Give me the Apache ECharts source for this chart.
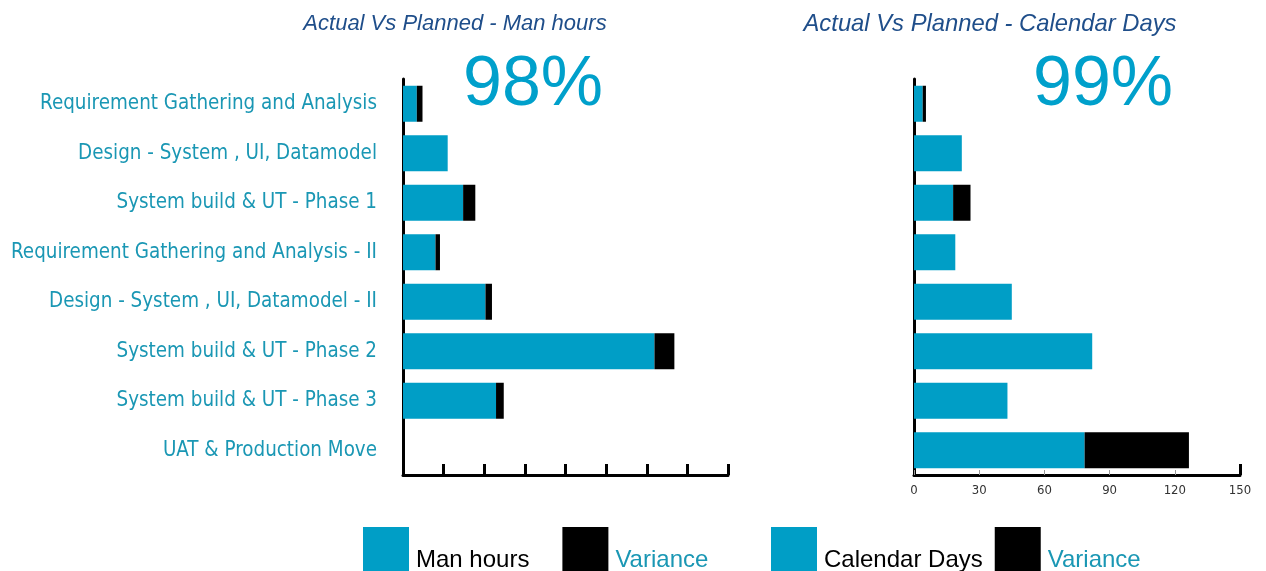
<!DOCTYPE html>
<html>
<head>
<meta charset="utf-8">
<script src="https://cdn.jsdelivr.net/npm/echarts@6/dist/echarts.min.js"></script>
<style>
  html, body { margin: 0; padding: 0; background: #fff; }
  #chart { width: 1266px; height: 571px; }
</style>
</head>
<body>
<div id="chart"></div>
<script>
const categories = [
  "Requirement Gathering and Analysis",
  "Design - System , UI, Datamodel",
  "System build & UT - Phase 1",
  "Requirement Gathering and Analysis - II",
  "Design - System , UI, Datamodel - II",
  "System build & UT - Phase 2",
  "System build & UT - Phase 3",
  "UAT & Production Move",
];
const manHours = [34, 110, 148, 80, 203, 619, 229, 0];
const manHoursVariance = [14, 0, 30, 11, 16, 49, 19, 0];
const calendarDays = [4, 22, 18, 19, 45, 82, 43, 78.5];
const calendarVariance = [1.5, 0, 8, 0, 0, 0, 0, 48];
const calendarTicks = [0, 30, 60, 90, 120, 150];
const manHoursPct = "98%";
const calendarPct = "99%";

const BLUE = "#009ec6";
const TEAL = "#1a97b4";
const NAVY = "#1f4e8a";

const chart = echarts.init(document.getElementById("chart"));

const catAxis = (gridIndex, showLabels) => ({
  type: "category",
  gridIndex,
  inverse: true,
  data: categories,
  axisLine: { lineStyle: { color: "#000", width: 3 } },
  axisTick: { show: false },
  axisLabel: {
    show: showLabels,
    color: TEAL,
    fontSize: 20.4,
    fontFamily: "DejaVu Sans Condensed",
    margin: 26,
  },
});

// legend text sits low, next to the bottom of the swatch
const legendText = (color) => ({
  fontSize: 24,
  rich: { t: { fontSize: 24, color, padding: [20, 0, 0, 2] } },
});

chart.setOption({
  animation: false,
  textStyle: { fontFamily: "Liberation Sans" },
  title: [
    {
      text: "Actual Vs Planned - Man hours",
      left: 450,
      top: 8,
      textAlign: "center",
      textStyle: { color: NAVY, fontSize: 22, fontStyle: "italic", fontWeight: "normal" },
    },
    {
      text: "Actual Vs Planned - Calendar Days",
      left: 985,
      top: 7,
      textAlign: "center",
      textStyle: { color: NAVY, fontSize: 23.8, fontStyle: "italic", fontWeight: "normal" },
    },
  ],
  graphic: [
    {
      type: "text",
      z: 10,
      style: { text: manHoursPct, x: 533, y: 86, fill: "#00a0cb", font: "70px Liberation Sans", textAlign: "center", textVerticalAlign: "middle" },
    },
    {
      type: "text",
      z: 10,
      style: { text: calendarPct, x: 1103, y: 86, fill: "#00a0cb", font: "70px Liberation Sans", textAlign: "center", textVerticalAlign: "middle" },
    },
  ],
  legend: [
    {
      left: 363,
      top: 527,
      padding: 0,
      itemWidth: 46,
      itemHeight: 46,
      itemGap: 33,
      icon: "rect",
      selectedMode: false,
      formatter: "{t|{name}}",
      data: [
        { name: "Man hours", textStyle: legendText("#000") },
        { name: "Variance", textStyle: legendText(TEAL) },
      ],
    },
    {
      left: 771,
      top: 527,
      padding: 0,
      itemWidth: 46,
      itemHeight: 46,
      itemGap: 12,
      icon: "rect",
      selectedMode: false,
      formatter: "{t|{name}}",
      data: [
        { name: "Calendar Days", textStyle: legendText("#000") },
        { name: "Variance", textStyle: legendText(TEAL) },
      ],
    },
  ],
  grid: [
    { left: 403, right: 538, top: 79, bottom: 96 },
    { left: 914, right: 26, top: 79, bottom: 96 },
  ],
  xAxis: [
    {
      type: "value",
      gridIndex: 0,
      min: 0,
      max: 800,
      interval: 100,
      axisLine: { show: true, lineStyle: { color: "#000", width: 3 } },
      axisTick: { show: true, inside: true, length: 11, lineStyle: { color: "#000", width: 3 } },
      axisLabel: { show: false },
      splitLine: { show: false },
    },
    {
      type: "value",
      gridIndex: 1,
      min: 0,
      max: 150,
      interval: 30,
      axisLine: { show: true, lineStyle: { color: "#000", width: 3 } },
      axisTick: { show: true, inside: true, length: 5, lineStyle: { color: "#999", width: 1 } },
      axisLabel: {
        color: "#333",
        fontSize: 13,
        fontFamily: "DejaVu Sans Condensed",
        margin: 9,
        customValues: calendarTicks,
      },
      splitLine: { show: false },
    },
    {
      type: "value",
      gridIndex: 1,
      min: 0,
      max: 150,
      position: "bottom",
      axisLine: { show: false },
      axisTick: { show: true, inside: true, length: 11, customValues: [150], lineStyle: { color: "#000", width: 3 } },
      axisLabel: { show: false },
      splitLine: { show: false },
    },
  ],
  yAxis: [catAxis(0, true), catAxis(1, false)],
  series: [
    {
      name: "Man hours",
      type: "bar",
      stack: "mh",
      xAxisIndex: 0,
      yAxisIndex: 0,
      barWidth: 36,
      itemStyle: { color: BLUE },
      data: manHours,
    },
    {
      name: "Variance",
      type: "bar",
      stack: "mh",
      xAxisIndex: 0,
      yAxisIndex: 0,
      barWidth: 36,
      itemStyle: { color: "#000" },
      data: manHoursVariance,
    },
    {
      name: "Calendar Days",
      type: "bar",
      stack: "cd",
      xAxisIndex: 1,
      yAxisIndex: 1,
      barWidth: 36,
      itemStyle: { color: BLUE },
      data: calendarDays,
    },
    {
      name: "Variance",
      type: "bar",
      stack: "cd",
      xAxisIndex: 1,
      yAxisIndex: 1,
      barWidth: 36,
      itemStyle: { color: "#000" },
      data: calendarVariance,
    },
  ],
});
</script>
</body>
</html>
